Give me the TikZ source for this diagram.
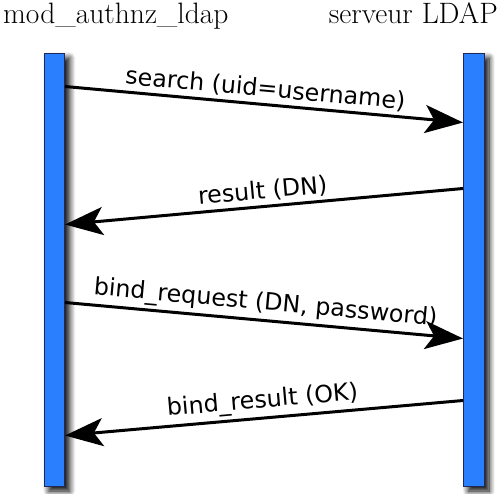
\documentclass[tikz,border=0pt]{standalone}
\usepackage{fontspec}
\newfontfamily\labelfont{DejaVu Sans}
\usetikzlibrary{arrows.meta,shadows.blur,calc}
\definecolor{barblue}{HTML}{2A7FFF}
\definecolor{barborder}{HTML}{1C2A55}
\tikzset{
 lifeline/.style={draw=barborder, line width=1pt, fill=barblue, minimum width=20.5pt, minimum height=433pt, inner sep=0pt,
   blur shadow={shadow xshift=5pt, shadow yshift=-5pt, shadow blur radius=6pt, shadow blur steps=10, shadow opacity=100}},
 msg/.style={line width=3pt, -{Stealth[length=38pt,width=28pt,inset=9pt]}},
 msglabel/.style={font=\labelfont\fontsize{23.8}{28}\selectfont, sloped, above=0pt, midway},
 title/.style={font=\fontsize{29.5}{34}\selectfont, inner sep=0pt}
}
\begin{document}
\begin{tikzpicture}[x=1pt,y=-1pt]
\useasboundingbox (0,0) rectangle (500,493);
\node[title, anchor=base west] (tl) at (3,23) {mod\_authnz\_ldap};
\node[title, anchor=base east] (tr) at (498,23) {serveur LDAP};
\node[lifeline, anchor=north west] (L) at (43.5,52.5) {};
\node[lifeline, anchor=north west] (R) at (463,52.5) {};
\coordinate (s1) at ($(L.north east)+(0,34)$);
\coordinate (e1) at ($(R.north west)+(0,70)$);
\coordinate (s2) at ($(R.north west)+(0,136)$);
\coordinate (e2) at ($(L.north east)+(0,172)$);
\coordinate (s3) at ($(L.north east)+(0,250)$);
\coordinate (e3) at ($(R.north west)+(0,286)$);
\coordinate (s4) at ($(R.north west)+(0,348)$);
\coordinate (e4) at ($(L.north east)+(0,383)$);
\draw[msg] (s1) -- node[msglabel] {search (uid=username)} (e1);
\draw[msg] (s2) -- node[msglabel] {result (DN)} (e2);
\draw[msg] (s3) -- node[msglabel] {bind\_request (DN, password)} (e3);
\draw[msg] (s4) -- node[msglabel] {bind\_result (OK)} (e4);
\end{tikzpicture}
\end{document}
